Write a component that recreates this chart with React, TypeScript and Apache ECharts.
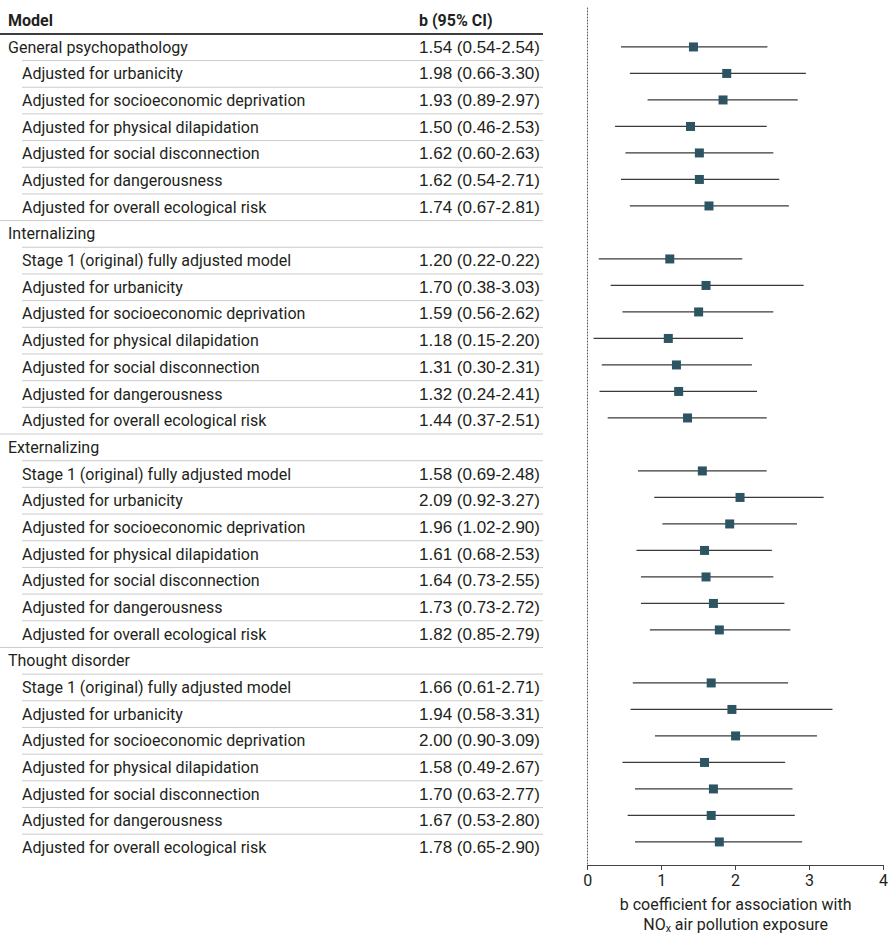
import { useEffect, useRef } from "react";
import * as echarts from "echarts";

const headerModel = "Model";
const headerCI = "b (95% CI)";
const groupRows = [0, 7, 15, 23];
const rowLabels = [
  "General psychopathology",
  "Adjusted for urbanicity",
  "Adjusted for socioeconomic deprivation",
  "Adjusted for physical dilapidation",
  "Adjusted for social disconnection",
  "Adjusted for dangerousness",
  "Adjusted for overall ecological risk",
  "Internalizing",
  "Stage 1 (original) fully adjusted model",
  "Adjusted for urbanicity",
  "Adjusted for socioeconomic deprivation",
  "Adjusted for physical dilapidation",
  "Adjusted for social disconnection",
  "Adjusted for dangerousness",
  "Adjusted for overall ecological risk",
  "Externalizing",
  "Stage 1 (original) fully adjusted model",
  "Adjusted for urbanicity",
  "Adjusted for socioeconomic deprivation",
  "Adjusted for physical dilapidation",
  "Adjusted for social disconnection",
  "Adjusted for dangerousness",
  "Adjusted for overall ecological risk",
  "Thought disorder",
  "Stage 1 (original) fully adjusted model",
  "Adjusted for urbanicity",
  "Adjusted for socioeconomic deprivation",
  "Adjusted for physical dilapidation",
  "Adjusted for social disconnection",
  "Adjusted for dangerousness",
  "Adjusted for overall ecological risk",
];

// values as printed in the table
const reportedB = [1.54, 1.98, 1.93, 1.5, 1.62, 1.62, 1.74, null, 1.2, 1.7, 1.59, 1.18, 1.31, 1.32, 1.44, null, 1.58, 2.09, 1.96, 1.61, 1.64, 1.73, 1.82, null, 1.66, 1.94, 2.0, 1.58, 1.7, 1.67, 1.78];
const reportedLo = [0.54, 0.66, 0.89, 0.46, 0.6, 0.54, 0.67, null, 0.22, 0.38, 0.56, 0.15, 0.3, 0.24, 0.37, null, 0.69, 0.92, 1.02, 0.68, 0.73, 0.73, 0.85, null, 0.61, 0.58, 0.9, 0.49, 0.63, 0.53, 0.65];
const reportedHi = [2.54, 3.3, 2.97, 2.53, 2.63, 2.71, 2.81, null, 0.22, 3.03, 2.62, 2.2, 2.31, 2.41, 2.51, null, 2.48, 3.27, 2.9, 2.53, 2.55, 2.72, 2.79, null, 2.71, 3.31, 3.09, 2.67, 2.77, 2.8, 2.9];

// values as drawn in the plot
const plotEst = [1.43, 1.88, 1.83, 1.39, 1.51, 1.51, 1.64, null, 1.11, 1.6, 1.5, 1.09, 1.2, 1.23, 1.35, null, 1.55, 2.06, 1.92, 1.58, 1.6, 1.7, 1.78, null, 1.67, 1.95, 2.0, 1.58, 1.7, 1.67, 1.78];
const plotLo = [0.45, 0.57, 0.81, 0.37, 0.51, 0.45, 0.57, null, 0.15, 0.31, 0.47, 0.08, 0.19, 0.16, 0.27, null, 0.68, 0.9, 1.01, 0.66, 0.72, 0.72, 0.84, null, 0.61, 0.58, 0.91, 0.47, 0.64, 0.54, 0.64];
const plotHi = [2.43, 2.95, 2.84, 2.42, 2.51, 2.59, 2.72, null, 2.09, 2.92, 2.51, 2.1, 2.22, 2.29, 2.42, null, 2.42, 3.19, 2.83, 2.49, 2.51, 2.66, 2.74, null, 2.71, 3.31, 3.1, 2.67, 2.77, 2.8, 2.9];

const xMin = 0;
const xMax = 4;
const xStep = 1;
const axisTitle = "b coefficient for association with\nNO{sub|x} air pollution exposure";

const FONT = "Roboto";
const FS = 16;
const NUM_FONT = "Liberation Sans";
const TEXT = "#231f20";
const MARKER = "#2c5462";

const fmt = (v: number) => v.toFixed(2);

function App() {
  const chartRef = useRef<HTMLDivElement>(null);

  useEffect(() => {
    const chart = echarts.init(chartRef.current, null, { renderer: "svg" });

    const tableData = [[-1], ...rowLabels.map((_, i) => [i])];
    const forestData = plotEst
      .map((e, i) => (e == null ? null : [i, e, plotLo[i], plotHi[i]]))
      .filter((d) => d != null);

    const yCommon = {
      type: "value",
      inverse: true,
      min: -1.47,
      max: 30.87,
      splitLine: { show: false },
      axisTick: { show: false },
      axisLabel: { show: false },
    };

    chart.setOption({
      animation: false,
      textStyle: { fontFamily: FONT },
      grid: [
        { left: 0, top: 8, width: 543, height: 862.7 },
        { left: 587.7, top: 8, width: 301, height: 862.7 },
      ],
      xAxis: [
        { gridIndex: 0, type: "value", min: 0, max: 543, show: false },
        {
          gridIndex: 1,
          type: "value",
          min: xMin,
          max: xMax,
          interval: xStep,
          axisLine: { show: true, onZero: false, lineStyle: { color: "#444", width: 1.2 } },
          axisTick: { show: true, length: 5, lineStyle: { color: "#444" } },
          axisLabel: { color: TEXT, fontSize: FS, fontFamily: FONT, margin: 7 },
          splitLine: { show: false },
          name: axisTitle,
          nameLocation: "middle",
          nameGap: 29,
          nameTextStyle: {
            color: TEXT,
            fontSize: FS,
            fontFamily: FONT,
            lineHeight: 20,
            rich: {
              sub: { fontSize: 10.5, fontFamily: FONT, color: TEXT, verticalAlign: "bottom", lineHeight: 14 },
            },
          },
        },
      ],
      yAxis: [
        { ...yCommon, gridIndex: 0, show: false },
        {
          ...yCommon,
          gridIndex: 1,
          axisLine: { show: true, onZero: false, lineStyle: { color: "#555", width: 1, type: [1, 2] } },
        },
      ],
      series: [
        {
          type: "custom",
          xAxisIndex: 0,
          yAxisIndex: 0,
          data: tableData,
          encode: { y: 0 },
          renderItem: (params: any, api: any) => {
            const i = api.value(0);
            const y = api.coord([0, i])[1];
            const yBelow = api.coord([0, i + 0.5])[1];
            const children: any[] = [];
            if (i === -1) {
              children.push(
                { type: "text", x: 8, y, style: { text: headerModel, fontSize: FS, fontFamily: FONT, fontWeight: "bold", fill: TEXT, verticalAlign: "middle" } },
                { type: "text", x: 419, y, style: { text: headerCI, fontSize: FS, fontFamily: FONT, fontWeight: "bold", fill: TEXT, verticalAlign: "middle" } },
                { type: "line", shape: { x1: 0, y1: yBelow, x2: 543, y2: yBelow }, style: { stroke: "#3d3d3d", lineWidth: 2 } }
              );
              return { type: "group", children };
            }
            const isGroup = groupRows.includes(i);
            children.push({
              type: "text",
              x: isGroup ? 8 : 22,
              y,
              style: { text: rowLabels[i], fontSize: FS, fontFamily: FONT, fill: TEXT, verticalAlign: "middle" },
            });
            if (reportedB[i] != null) {
              children.push({
                type: "text",
                x: 419,
                y,
                style: {
                  text: `${fmt(reportedB[i]!)} (${fmt(reportedLo[i]!)}-${fmt(reportedHi[i]!)})`,
                  fontSize: 17,
                  fontFamily: NUM_FONT,
                  fill: TEXT,
                  verticalAlign: "middle",
                },
              });
            }
            if (i < rowLabels.length - 1) {
              const nextGroup = groupRows.includes(i + 1);
              children.push({
                type: "line",
                shape: { x1: nextGroup ? 0 : 22, y1: yBelow, x2: 543, y2: yBelow },
                style: { stroke: "#cbcbcb", lineWidth: 1 },
              });
            }
            return { type: "group", children };
          },
        },
        {
          type: "custom",
          xAxisIndex: 1,
          yAxisIndex: 1,
          data: forestData,
          encode: { x: [1, 2, 3], y: 0 },
          renderItem: (params: any, api: any) => {
            const i = api.value(0);
            const pE = api.coord([api.value(1), i]);
            const pL = api.coord([api.value(2), i]);
            const pH = api.coord([api.value(3), i]);
            return {
              type: "group",
              children: [
                { type: "line", shape: { x1: pL[0], y1: pL[1], x2: pH[0], y2: pH[1] }, style: { stroke: "#3a3a3a", lineWidth: 1.2 } },
                { type: "rect", shape: { x: pE[0] - 4.5, y: pE[1] - 4.5, width: 9, height: 9 }, style: { fill: MARKER } },
              ],
            };
          },
        },
      ],
    });

    return () => chart.dispose();
  }, []);

  return (
    <div
      ref={chartRef}
      style={{ position: "absolute", left: 0, top: 0, width: 891, height: 939, background: "#fff" }}
    />
  );
}

export default App;
